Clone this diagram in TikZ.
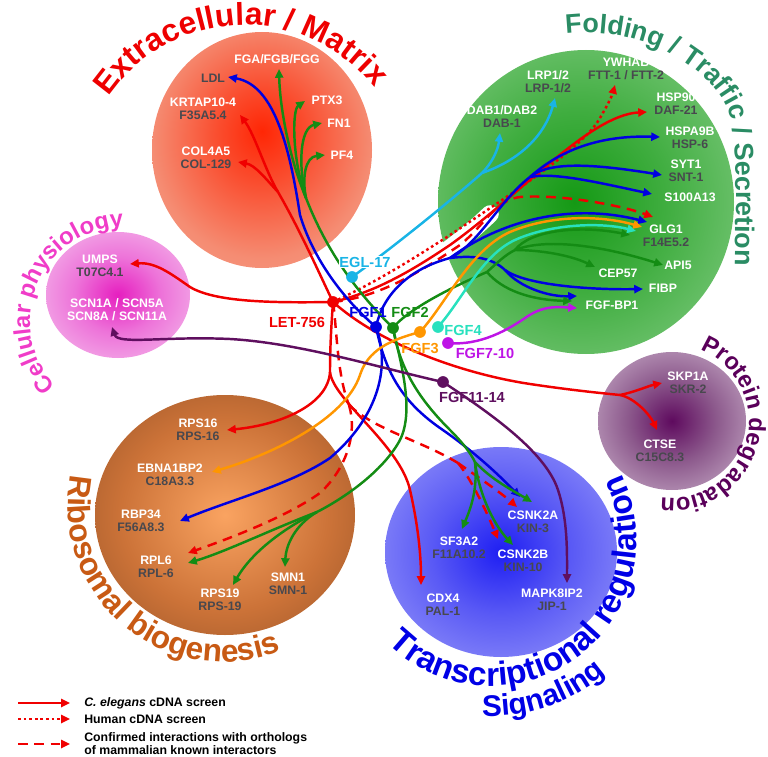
\documentclass[tikz,border=0pt]{standalone}
\usepackage{fontspec}
\setmainfont{Liberation Sans}
\usetikzlibrary{arrows.meta,decorations.text}

% line colours
\definecolor{lred}{RGB}{240,0,0}
\definecolor{lblue}{RGB}{0,0,225}
\definecolor{lgreen}{RGB}{20,140,20}
\definecolor{lorange}{RGB}{255,150,0}
\definecolor{lteal}{RGB}{40,225,190}
\definecolor{lcyan}{RGB}{25,180,230}
\definecolor{lviolet}{RGB}{190,20,230}
\definecolor{lplum}{RGB}{95,15,95}
\definecolor{wormgray}{RGB}{72,72,78}
% title colours
\definecolor{tred}{RGB}{238,0,0}
\definecolor{tgreen}{RGB}{42,140,100}
\definecolor{tpink}{RGB}{240,60,200}
\definecolor{tplum}{RGB}{90,0,90}
\definecolor{tbrown}{RGB}{200,90,20}
\definecolor{tblue}{RGB}{0,0,230}

% compartment shadings
\pgfdeclareradialshading{redblob}{\pgfpoint{0bp}{4bp}}{rgb(0bp)=(1,0.15,0.02); rgb(10bp)=(0.98,0.3,0.18); rgb(25bp)=(0.96,0.55,0.45); rgb(40bp)=(0.96,0.65,0.57); rgb(50bp)=(0.96,0.68,0.6)}
\pgfdeclareradialshading{greenblob}{\pgfpoint{-2bp}{0bp}}{rgb(0bp)=(0.08,0.6,0.08); rgb(15bp)=(0.25,0.68,0.25); rgb(35bp)=(0.52,0.8,0.52); rgb(50bp)=(0.6,0.84,0.6)}
\pgfdeclareradialshading{pinkblob}{\pgfpoint{0bp}{0bp}}{rgb(0bp)=(0.9,0.12,0.75); rgb(15bp)=(0.93,0.45,0.85); rgb(35bp)=(0.96,0.75,0.93); rgb(50bp)=(0.97,0.8,0.94)}
\pgfdeclareradialshading{plumblob}{\pgfpoint{0bp}{0bp}}{rgb(0bp)=(0.37,0.04,0.37); rgb(15bp)=(0.55,0.35,0.55); rgb(35bp)=(0.8,0.7,0.8); rgb(50bp)=(0.85,0.76,0.85)}
\pgfdeclareradialshading{brownblob}{\pgfpoint{0bp}{0bp}}{rgb(0bp)=(0.98,0.64,0.38); rgb(20bp)=(0.8,0.45,0.22); rgb(40bp)=(0.55,0.3,0.14); rgb(50bp)=(0.45,0.24,0.11)}
\pgfdeclareradialshading{blueblob}{\pgfpoint{0bp}{0bp}}{rgb(0bp)=(0.12,0.12,0.95); rgb(15bp)=(0.35,0.35,0.96); rgb(35bp)=(0.6,0.6,0.98); rgb(50bp)=(0.67,0.67,0.98)}

\newcommand{\hs}[1]{\textcolor{white}{#1}}
\newcommand{\wm}[1]{\textcolor{wormgray}{#1}}

\tikzset{
  gene/.style={font=\fontsize{7}{7.4}\selectfont\bfseries, align=center, inner sep=0pt},
  hub/.style={circle, fill=#1, inner sep=0pt, minimum size=6.5pt},
  hublab/.style={font=\fontsize{8.3}{9}\selectfont\bfseries, text=#1, inner sep=0pt},
  link/.style={line width=1.4pt, draw=#1},
  tolink/.style={link=#1, -{Triangle[length=5pt,width=4.6pt]}},
  dotlink/.style={dash pattern=on 1.5pt off 1.7pt},
  dashlink/.style={dash pattern=on 5.5pt off 3.8pt},
  legtext/.style={font=\fontsize{7}{7.4}\selectfont\bfseries, align=left, inner sep=0pt, anchor=west}
}

\begin{document}
\begin{tikzpicture}[x=0.02cm, y=-0.02cm]
\useasboundingbox (0,0) rectangle (768,757);

% Compartments
\shade[shading=redblob] (262,150) ellipse[x radius=110, y radius=118];
\shade[shading=greenblob] (586,202) ellipse[x radius=148, y radius=152];
\shade[shading=pinkblob] (118,295) ellipse[x radius=72, y radius=63];
\shade[shading=plumblob] (672,421) ellipse[x radius=74, y radius=69];
\shade[shading=brownblob] (225,515) ellipse[x radius=130, y radius=120];
\shade[shading=blueblob] (501,552) ellipse[x radius=116, y radius=105];

% Compartment titles
\path[decorate, decoration={text along path, text align=center, text color=tred,
  text={|\fontsize{18}{18}\selectfont\bfseries|Extracellular / Matrix}}]
  (245,190) ++(-182:165) arc[start angle=-182, end angle=-2, radius=165];
\path[decorate, decoration={text along path, text color=tgreen,
  text={|\fontsize{15.3}{15.3}\selectfont\bfseries|Folding / Traffic / Secretion}}]
  (566,34) .. controls (640,25) and (708,65) .. (728,110) .. controls (740,143) and (735,230) .. (735,285);
\path[decorate, decoration={text along path, text align=center, text color=tpink,
  text={|\fontsize{13.5}{13.5}\selectfont\bfseries|Cellular physiology}}]
  (124,321) ++(-247:94) arc[start angle=-247, end angle=-67, radius=94];
\path[decorate, decoration={text along path, text align=center, text color=tplum,
  text={|\fontsize{13.5}{13.5}\selectfont\bfseries|Protein degradation}}]
  (672,421) ++(-90:77) arc[start angle=-90, end angle=120, radius=77];
\path[decorate, decoration={text along path, text align=center, text color=tbrown,
  text={|\fontsize{18}{18}\selectfont\bfseries|Ribosomal biogenesis}}]
  (224,506) ++(-145:156) arc[start angle=-145, end angle=-315, radius=156];
\path[decorate, decoration={text along path, text align=center, text color=tblue,
  text={|\fontsize{19}{19}\selectfont\bfseries|Transcriptional regulation}}]
  (491,540) ++(-216:146) arc[start angle=-216, end angle=-396, radius=146];
\path[decorate, decoration={text along path, text align=center, text color=tblue,
  text={|\fontsize{17}{17}\selectfont\bfseries|Signaling}}]
  (491,540) ++(-250:176) arc[start angle=-250, end angle=-328, radius=176];

% white gap along the bundle
\draw[white, line width=10pt, line cap=round] (390,287) .. controls (425,268) and (460,243) .. (490,214);

% Hubs (placed first, drawn again on top)
\node[hub=lred] (let) at (333,302) {};
\node[hub=lblue] (fgf1) at (376,327) {};
\node[hub=lgreen] (fgf2) at (393,328) {};
\node[hub=lorange] (fgf3) at (420,332) {};
\node[hub=lteal] (fgf4) at (438,327) {};
\node[hub=lviolet] (fgf7) at (448,343) {};
\node[hub=lplum] (fgf11) at (443,382) {};
\node[hub=lcyan] (egl) at (352,277) {};

% Extracellular / Matrix genes
\node[gene] (fga) at (277,59) {\hs{FGA/FGB/FGG}};
\node[gene] (ldl) at (213,78) {\wm{LDL}};
\node[gene] (krtap) at (203,109) {\hs{KRTAP10-4}\\\wm{F35A5.4}};
\node[gene] (col) at (206,158) {\hs{COL4A5}\\\wm{COL-129}};
\node[gene] (ptx) at (327,100) {\hs{PTX3}};
\node[gene] (fn) at (339,123) {\hs{FN1}};
\node[gene] (pf) at (342,155) {\hs{PF4}};
\coordinate (fgaT) at (279,69);
\coordinate (ldlT) at (228,77);
\coordinate (krtapT) at (240,115);
\coordinate (colT) at (238,162);
\coordinate (ptxT) at (305,101);
\coordinate (fnT) at (322,123);
\coordinate (pfT) at (325,155);

% Folding / Traffic / Secretion genes
\node[gene] (ywhab) at (626,69) {\hs{YWHAB}\\\wm{FTT-1 / FTT-2}};
\node[gene] (lrp) at (548,82) {\hs{LRP1/2}\\\wm{LRP-1/2}};
\node[gene] (dab) at (502,117) {\hs{DAB1/DAB2}\\\wm{DAB-1}};
\node[gene] (hsp90) at (676,104) {\hs{HSP90}\\\wm{DAF-21}};
\node[gene] (hspa) at (690,138) {\hs{HSPA9B}\\\wm{HSP-6}};
\node[gene] (syt) at (686,171) {\hs{SYT1}\\\wm{SNT-1}};
\node[gene] (s100) at (690,197) {\hs{S100A13}};
\node[gene] (glg) at (666,236) {\hs{GLG1}\\\wm{F14E5.2}};
\node[gene] (api) at (678,265) {\hs{API5}};
\node[gene] (cep) at (618,273) {\hs{CEP57}};
\node[gene] (fibp) at (663,288) {\hs{FIBP}};
\node[gene] (fgfbp) at (612,305) {\hs{FGF-BP1}};
\coordinate (ywT) at (615,85);
\coordinate (lrpT) at (555,98);
\coordinate (dabT) at (500,133);
\coordinate (hsp90T) at (647,112);
\coordinate (hspaT) at (660,137);
\coordinate (sytT) at (662,175);
\coordinate (s100T) at (652,194);
\coordinate (glgTr) at (653,217);
\coordinate (glgTb) at (647,222);
\coordinate (glgTo) at (642,227);
\coordinate (glgTt) at (636,231);
\coordinate (glgTg) at (630,235);
\coordinate (apiT) at (663,265);
\coordinate (cepT) at (595,267);
\coordinate (fibpT) at (643,289);
\coordinate (fbpTb) at (577,296);
\coordinate (fbpTg) at (572,301);
\coordinate (fbpTv) at (577,308);

% Cellular physiology genes
\node[gene] (umps) at (100,266) {\hs{UMPS}\\\wm{T07C4.1}};
\node[gene] (scn) at (117,310) {\hs{SCN1A / SCN5A}\\\hs{SCN8A / SCN11A}};
\coordinate (umpsT) at (130,264);
\coordinate (scnT) at (112,327);

% Protein degradation genes
\node[gene] (skp) at (688,383) {\hs{SKP1A}\\\wm{SKR-2}};
\node[gene] (ctse) at (660,451) {\hs{CTSE}\\\wm{C15C8.3}};
\coordinate (skpT) at (662,383);
\coordinate (ctseT) at (657,430);

% Ribosomal biogenesis genes
\node[gene] (rps16) at (198,430) {\hs{RPS16}\\\wm{RPS-16}};
\node[gene] (ebna) at (170,475) {\hs{EBNA1BP2}\\\wm{C18A3.3}};
\node[gene] (rbp) at (141,521) {\hs{RBP34}\\\wm{F56A8.3}};
\node[gene] (rpl) at (156,567) {\hs{RPL6}\\\wm{RPL-6}};
\node[gene] (rps19) at (220,600) {\hs{RPS19}\\\wm{RPS-19}};
\node[gene] (smn) at (288,584) {\hs{SMN1}\\\wm{SMN-1}};
\coordinate (rps16T) at (227,430);
\coordinate (ebnaT) at (212,472);
\coordinate (rbpT) at (180,521);
\coordinate (rplTr) at (188,553);
\coordinate (rplTg) at (188,563);
\coordinate (rpsT) at (233,585);
\coordinate (smnT) at (285,567);

% Transcriptional regulation / Signaling genes
\node[gene] (sf) at (459,548) {\hs{SF3A2}\\\wm{F11A10.2}};
\node[gene] (cska) at (533,522) {\hs{CSNK2A}\\\wm{KIN-3}};
\node[gene] (cskb) at (523,561) {\hs{CSNK2B}\\\wm{KIN-10}};
\node[gene] (cdx) at (443,605) {\hs{CDX4}\\\wm{PAL-1}};
\node[gene] (mapk) at (552,600) {\hs{MAPK8IP2}\\\wm{JIP-1}};
\coordinate (sfT) at (462,529);
\coordinate (cskaTr) at (517,507);
\coordinate (cskaTb) at (520,497);
\coordinate (cskaTg) at (532,502);
\coordinate (cskbTr) at (498,539);
\coordinate (cskbTg) at (513,545);
\coordinate (cdxT) at (421,585);
\coordinate (mapkT) at (567,583);

% LET-756 links
\coordinate (redX) at (278,192);
\draw[link=lred] (let.center) .. controls (320,275) and (300,230) .. (redX);
\draw[tolink=lred] (redX) .. controls (265,170) and (255,135) .. (krtapT);
\draw[tolink=lred] (redX) .. controls (265,178) and (255,165) .. (colT);
\draw[tolink=lred] (let.center) .. controls (270,303) and (215,302) .. (190,287) .. controls (170,273) and (155,262) .. (umpsT);
\coordinate (redD) at (330,372);
\draw[link=lred] (let.center) .. controls (331,330) and (330,350) .. (redD);
\draw[tolink=lred] (redD) .. controls (328,405) and (280,425) .. (rps16T);
\draw[tolink=lred] (redD) .. controls (333,400) and (400,445) .. (410,490) .. controls (418,525) and (421,555) .. (cdxT);
\coordinate (redDd) at (349,405);
\draw[link=lred, dashlink] (let.center) .. controls (337,330) and (337,375) .. (redDd);
\draw[tolink=lred, dashlink] (redDd) .. controls (358,435) and (345,470) .. (320,493) .. controls (285,518) and (225,540) .. (rplTr);
\coordinate (redCs) at (458,463);
\draw[link=lred, dashlink] (redDd) .. controls (375,430) and (420,440) .. (redCs);
\draw[tolink=lred, dashlink] (redCs) .. controls (475,475) and (500,492) .. (cskaTr);
\draw[tolink=lred, dashlink] (redCs) .. controls (472,480) and (488,515) .. (cskbTr);
\coordinate (redP) at (620,395);
\draw[link=lred] (let.center) .. controls (385,348) and (470,375) .. (530,384) .. controls (570,390) and (600,393) .. (redP);
\draw[tolink=lred] (redP) .. controls (635,392) and (648,386) .. (skpT);
\draw[tolink=lred] (redP) .. controls (635,398) and (650,415) .. (ctseT);
\draw[tolink=lred] (let.center) .. controls (375,292) and (410,272) .. (450,245) .. controls (520,195) and (590,115) .. (hsp90T);
\draw[tolink=lred, dotlink] (let.center) .. controls (372,284) and (405,264) .. (447,237) .. controls (525,185) and (585,145) .. (600,118) .. controls (607,106) and (612,96) .. (ywT);
\draw[tolink=lred, dashlink] (let.center) .. controls (380,297) and (420,272) .. (460,245) .. controls (485,225) and (495,200) .. (520,197) .. controls (560,194) and (620,205) .. (glgTr);

% FGF1 links
\draw[tolink=lblue] (fgf1.center) .. controls (350,305) and (315,265) .. (300,215) .. controls (290,150) and (275,85) .. (ldlT);
\coordinate (blueB) at (450,258);
\draw[link=lblue] (fgf1.center) .. controls (382,298) and (405,270) .. (blueB);
\coordinate (blueU) at (530,177);
\draw[link=lblue] (blueB) .. controls (478,245) and (500,200) .. (blueU);
\draw[tolink=lblue] (blueU) .. controls (560,150) and (600,135) .. (hspaT);
\draw[tolink=lblue] (blueU) .. controls (550,160) and (600,165) .. (sytT);
\draw[tolink=lblue] (blueU) .. controls (555,172) and (600,183) .. (s100T);
\draw[tolink=lblue] (blueB) .. controls (490,228) and (560,200) .. (glgTb);
\coordinate (blueL) at (505,270);
\draw[link=lblue] (blueB) .. controls (475,255) and (492,258) .. (blueL);
\draw[tolink=lblue] (blueL) .. controls (520,288) and (550,297) .. (fbpTb);
\draw[tolink=lblue] (blueL) .. controls (525,285) and (590,290) .. (fibpT);
\draw[tolink=lblue] (fgf1.center) .. controls (392,370) and (375,420) .. (330,458) .. controls (290,485) and (230,500) .. (rbpT);
\draw[tolink=lblue] (fgf1.center) .. controls (385,370) and (400,400) .. (440,428) .. controls (475,452) and (502,478) .. (cskaTb);

% FGF2 links
\coordinate (greenX) at (306,198);
\draw[link=lgreen] (fgf2.center) .. controls (365,300) and (330,260) .. (greenX);
\draw[tolink=lgreen] (greenX) .. controls (290,160) and (280,110) .. (fgaT);
\draw[tolink=lgreen] (greenX) .. controls (292,160) and (292,110) .. (ptxT);
\draw[tolink=lgreen] (greenX) .. controls (298,165) and (300,128) .. (fnT);
\draw[tolink=lgreen] (greenX) .. controls (302,178) and (305,157) .. (pfT);
\coordinate (greenF) at (487,272);
\draw[link=lgreen] (fgf2.center) .. controls (405,312) and (445,290) .. (greenF);
\draw[tolink=lgreen] (greenF) .. controls (502,290) and (530,300) .. (fbpTg);
\coordinate (greenG) at (515,250);
\draw[link=lgreen] (greenF) .. controls (497,263) and (505,255) .. (greenG);
\draw[tolink=lgreen] (greenG) .. controls (530,230) and (580,225) .. (glgTg);
\draw[tolink=lgreen] (greenG) .. controls (545,238) and (600,245) .. (apiT);
\draw[tolink=lgreen] (greenG) .. controls (540,250) and (570,255) .. (cepT);
\coordinate (greenR) at (317,512);
\draw[link=lgreen] (fgf2.center) .. controls (400,360) and (415,410) .. (400,440) .. controls (385,468) and (350,495) .. (greenR);
\draw[tolink=lgreen] (greenR) .. controls (270,530) and (225,552) .. (rplTg);
\draw[tolink=lgreen] (greenR) .. controls (280,530) and (250,555) .. (rpsT);
\draw[tolink=lgreen] (greenR) .. controls (295,525) and (286,545) .. (smnT);
\coordinate (greenT) at (475,462);
\draw[link=lgreen] (fgf2.center) .. controls (400,370) and (420,400) .. (450,430) .. controls (462,442) and (470,452) .. (greenT);
\draw[tolink=lgreen] (greenT) .. controls (492,480) and (512,490) .. (cskaTg);
\draw[tolink=lgreen] (greenT) .. controls (478,490) and (470,510) .. (sfT);
\draw[tolink=lgreen] (greenT) .. controls (480,500) and (497,528) .. (cskbTg);

% FGF3, FGF4, FGF7-10 links
\draw[tolink=lorange] (fgf3.center) .. controls (445,305) and (470,250) .. (510,232) .. controls (550,215) and (600,215) .. (glgTo);
\draw[tolink=lorange] (fgf3.center) .. controls (390,340) and (368,350) .. (360,375) .. controls (345,420) and (270,455) .. (ebnaT);
\draw[tolink=lteal] (fgf4.center) .. controls (462,300) and (482,255) .. (515,240) .. controls (550,224) and (600,222) .. (glgTt);
\draw[tolink=lviolet] (fgf7.center) .. controls (480,346) and (508,330) .. (528,316) .. controls (545,305) and (560,307) .. (fbpTv);

% FGF11-14 links
\draw[tolink=lplum] (fgf11.center) .. controls (380,368) and (300,343) .. (230,339) .. controls (165,336) and (118,345) .. (scnT);
\draw[tolink=lplum] (fgf11.center) .. controls (485,410) and (545,450) .. (558,490) .. controls (568,520) and (567,555) .. (mapkT);

% EGL-17 links
\coordinate (cyanB) at (482,173);
\draw[link=lcyan] (egl.center) .. controls (380,257) and (440,210) .. (cyanB);
\draw[tolink=lcyan] (cyanB) .. controls (492,163) and (498,150) .. (dabT);
\draw[tolink=lcyan] (cyanB) .. controls (520,160) and (545,135) .. (lrpT);

% Hub dots on top, with their labels
\node[hub=lred] at (let) {};
\node[hub=lblue] at (fgf1) {};
\node[hub=lgreen] at (fgf2) {};
\node[hub=lorange] at (fgf3) {};
\node[hub=lteal] at (fgf4) {};
\node[hub=lviolet] at (fgf7) {};
\node[hub=lplum] at (fgf11) {};
\node[hub=lcyan] at (egl) {};
\node[hublab=lred] (letlab) at (297,322) {LET-756};
\node[hublab=lblue] (fgf1lab) at (368,312) {FGF1};
\node[hublab=lgreen] (fgf2lab) at (410,312) {FGF2};
\node[hublab=lorange] (fgf3lab) at (420,348) {FGF3};
\node[hublab=lteal] (fgf4lab) at (463,330) {FGF4};
\node[hublab=lviolet] (fgf7lab) at (485,353) {FGF7-10};
\node[hublab=lplum] (fgf11lab) at (472,397) {FGF11-14};
\node[hublab=lcyan, fill=white, inner sep=0.5pt] (egllab) at (365,262) {EGL-17};

% Legend
\coordinate (lgA1) at (18,703);
\coordinate (lgB1) at (70,703);
\coordinate (lgA2) at (18,719);
\coordinate (lgB2) at (70,719);
\coordinate (lgA3) at (18,744);
\coordinate (lgB3) at (70,744);
\draw[tolink=lred] (lgA1) -- (lgB1);
\draw[tolink=lred, dotlink] (lgA2) -- (lgB2);
\draw[tolink=lred, dashlink] (lgA3) -- (lgB3);
\node[legtext] (lgT1) at (84,703) {\textit{C. elegans} cDNA screen};
\node[legtext] (lgT2) at (84,719) {Human cDNA screen};
\node[legtext] (lgT3) at (84,744) {Confirmed interactions with orthologs\\of mammalian known interactors};

\end{tikzpicture}
\end{document}
